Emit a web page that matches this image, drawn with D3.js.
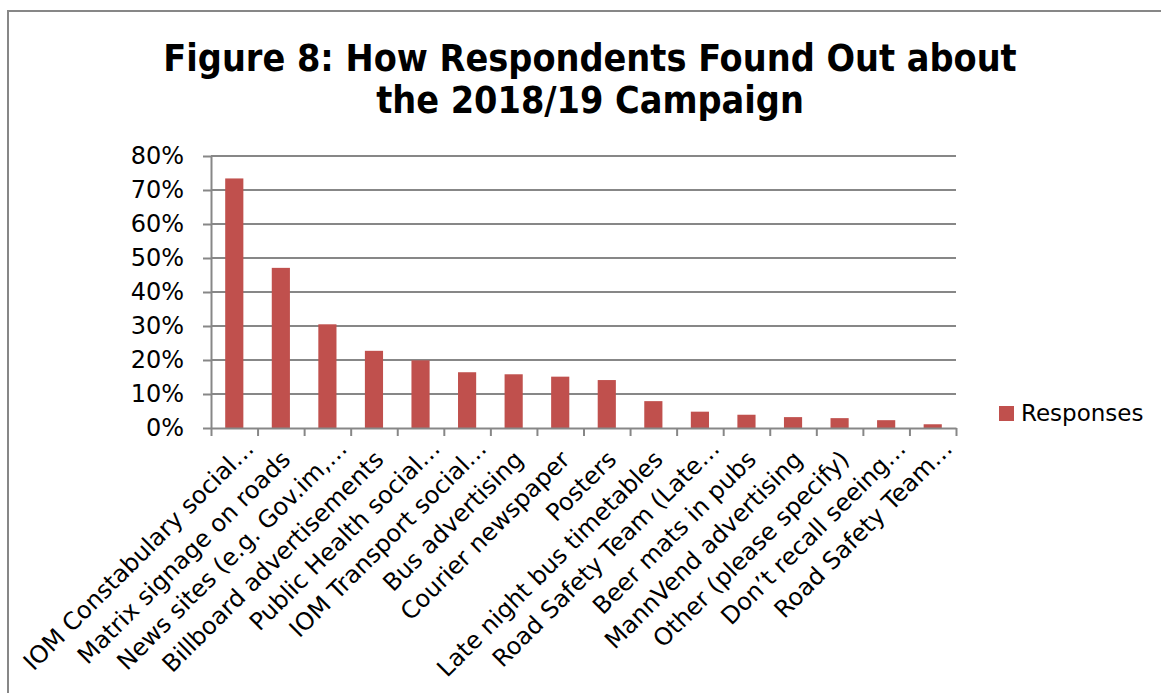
<!DOCTYPE html>
<html>
<head>
<meta charset="utf-8">
<script src="https://cdn.jsdelivr.net/npm/d3@7"></script>
<style>
  body { margin: 0; background: #fff; }
  svg { display: block; font-family: 'DejaVu Sans', Verdana, sans-serif; }
</style>
</head>
<body>
<div id="d3chart"></div>
<script>
// Chart data
const titleLines = ['Figure 8: How Respondents Found Out about', 'the 2018/19 Campaign']
const seriesName = 'Responses'
const categories = [
  'IOM Constabulary social…',
  'Matrix signage on roads',
  'News sites (e.g. Gov.im,…',
  'Billboard advertisements',
  'Public Health social…',
  'IOM Transport social…',
  'Bus advertising',
  'Courier newspaper',
  'Posters',
  'Late night bus timetables',
  'Road Safety Team (Late…',
  'Beer mats in pubs',
  'MannVend advertising',
  'Other (please specify)',
  'Don’t recall seeing…',
  'Road Safety Team…'
]
const responses = [0.734, 0.471, 0.305, 0.227, 0.199, 0.164, 0.158, 0.151, 0.141, 0.079, 0.048, 0.039, 0.032, 0.029, 0.023, 0.011]
const yTicks = [0, 0.1, 0.2, 0.3, 0.4, 0.5, 0.6, 0.7, 0.8]

class D3Chart {
  constructor () {
    this.drawChart()
  }

  drawChart () {
    this.chartWidth = 1161
    this.chartHeight = 693
    this.plot = { left: 211, right: 956, top: 156, bottom: 428 }
    this.barColor = '#C0504D'
    this.lineColor = '#878787'

    this.chartSVG = d3.select('#d3chart')
      .append('svg')
      .attr('width', this.chartWidth)
      .attr('height', this.chartHeight)

    // outer chart frame (only top and left edges show in the crop)
    this.chartSVG.append('rect')
      .attr('x', 8).attr('y', 11)
      .attr('width', this.chartWidth + 20).attr('height', this.chartHeight + 20)
      .attr('fill', '#fff')
      .attr('stroke', this.lineColor)
      .attr('stroke-width', 2)

    this.createScales()
    this.addTitle()
    this.addGridLines()
    this.addDataVisuals()
    this.addAxes()
    this.addLegend()
  }

  createScales () {
    this.xScale = d3.scaleBand()
      .domain(categories)
      .range([this.plot.left, this.plot.right])
      .paddingInner(0.61)
      .paddingOuter(0.305)
    // category boundaries, for the tick marks
    this.edgeScale = d3.scaleLinear()
      .domain([0, categories.length])
      .range([this.plot.left, this.plot.right])
    this.yScale = d3.scaleLinear()
      .domain([0, 0.8])
      .range([this.plot.bottom, this.plot.top])
  }

  addTitle () {
    this.chartSVG.append('text')
      .attr('x', 590)
      .attr('y', 71)
      .attr('text-anchor', 'middle')
      .style('font-family', "'DejaVu Sans Condensed', 'DejaVu Sans', sans-serif")
      .style('font-stretch', 'condensed')
      .style('font-weight', 'bold')
      .style('font-size', '37.4px')
      .selectAll('tspan')
      .data(titleLines)
      .join('tspan')
      .attr('x', 590)
      .attr('dy', (d, i) => i === 0 ? 0 : 42)
      .text(d => d)
  }

  addGridLines () {
    this.chartSVG.append('g')
      .attr('class', 'grid')
      .selectAll('line')
      .data(yTicks.slice(1))
      .join('line')
      .attr('x1', this.plot.left)
      .attr('x2', this.plot.right)
      .attr('y1', d => this.yScale(d))
      .attr('y2', d => this.yScale(d))
      .attr('stroke', this.lineColor)
      .attr('stroke-width', 2)
  }

  addDataVisuals () {
    this.chartSVG.append('g')
      .selectAll('rect')
      .data(responses)
      .join('rect')
      .attr('x', (d, i) => this.xScale(categories[i]))
      .attr('width', this.xScale.bandwidth())
      .attr('y', d => this.yScale(d))
      .attr('height', d => this.yScale(0) - this.yScale(d))
      .attr('fill', this.barColor)
  }

  addAxes () {
    const yAxis = d3.axisLeft(this.yScale)
      .tickValues(yTicks)
      .tickFormat(d3.format('.0%'))
      .tickSize(8)
      .tickSizeOuter(0)
      .tickPadding(19)
    const yG = this.chartSVG.append('g')
      .attr('transform', `translate(${this.plot.left},0)`)
      .call(yAxis)
    yG.selectAll('line, path').attr('stroke', this.lineColor).attr('stroke-width', 2)
    yG.selectAll('text')
      .attr('fill', '#000')
      .style('font-family', "'DejaVu Sans', sans-serif")
      .style('font-size', '24px')

    const xAxis = d3.axisBottom(this.edgeScale)
      .tickValues(d3.range(categories.length + 1))
      .tickFormat('')
      .tickSize(8)
      .tickSizeOuter(0)
    const xG = this.chartSVG.append('g')
      .attr('transform', `translate(0,${this.plot.bottom})`)
      .call(xAxis)
    xG.selectAll('line, path').attr('stroke', this.lineColor).attr('stroke-width', 2)

    // rotated category labels, ending just right of each bar
    this.chartSVG.append('g')
      .selectAll('text')
      .data(categories)
      .join('text')
      .attr('transform', d => {
        const cx = this.xScale(d) + this.xScale.bandwidth() / 2
        const cut = d.endsWith('…')
        const x = cx + (cut ? 21 : 11)
        const y = cut ? 450 : 461
        return `translate(${x},${y}) rotate(-45)`
      })
      .attr('text-anchor', 'end')
      .style('font-size', '24px')
      .text(d => d)
  }

  addLegend () {
    const legend = this.chartSVG.append('g')
      .attr('transform', 'translate(999,406)')
    legend.append('rect')
      .attr('width', 15)
      .attr('height', 15)
      .attr('fill', this.barColor)
    legend.append('text')
      .attr('x', 22)
      .attr('y', 15)
      .style('font-size', '23px')
      .text(seriesName)
  }
}

new D3Chart()
</script>
</body>
</html>
